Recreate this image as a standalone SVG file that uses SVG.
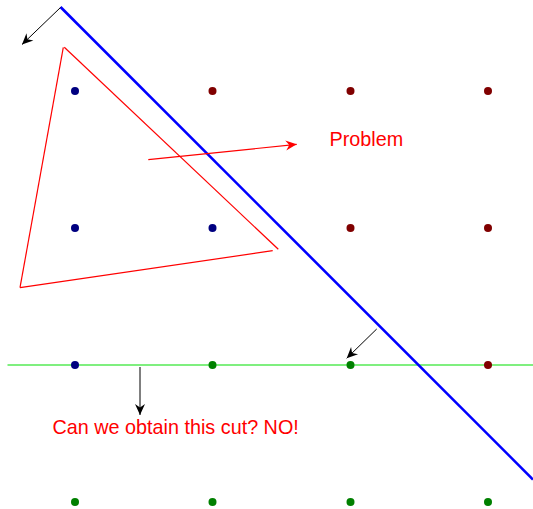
<svg xmlns="http://www.w3.org/2000/svg" width="533" height="509" viewBox="0 0 533 509">
<defs>
<style>
.blk{stroke:#000;stroke-width:1;fill:none}
.red{stroke:#ff0000;stroke-width:1.2;fill:none}
.dn{fill:#000080}.dr{fill:#800000}.dg{fill:#008000}
.lbl{font-family:"Liberation Sans",Arial,sans-serif;font-size:19.8px;fill:#ff0000}
</style>
<marker id="ah" viewBox="-12 -6 13 12" refX="0" refY="0" markerWidth="13" markerHeight="12" markerUnits="userSpaceOnUse" orient="auto">
<path d="M0,0 L-11,-5 L-7.5,0 L-11,5 z" fill="#000"/>
</marker>
<marker id="ahr" viewBox="-12 -6 13 12" refX="0" refY="0" markerWidth="13" markerHeight="12" markerUnits="userSpaceOnUse" orient="auto">
<path d="M0,0 L-11,-5 L-7.5,0 L-11,5 z" fill="#ff0000"/>
</marker>
</defs>
<rect width="533" height="509" fill="#fff"/>
<g id="cut-line">
<line x1="7.5" y1="365" x2="533" y2="365" stroke="#00e000" stroke-width="1.1"/>
</g>
<g id="blue-line">
<line x1="60.5" y1="7" x2="533" y2="479.5" stroke="#0000ff" stroke-width="2.6"/>
</g>
<g id="triangle">
<line class="red" x1="63.3" y1="47.3" x2="20" y2="287.7"/>
<line class="red" x1="20" y1="287.7" x2="272.7" y2="250.7"/>
<line class="red" x1="64.3" y1="47.3" x2="278.3" y2="249.3"/>
</g>
<g id="dots">
<circle class="dn" cx="75" cy="91" r="4"/>
<circle class="dr" cx="212.5" cy="91" r="4"/>
<circle class="dr" cx="350.5" cy="91" r="4"/>
<circle class="dr" cx="488" cy="91" r="4"/>
<circle class="dn" cx="75" cy="228" r="4"/>
<circle class="dn" cx="212.5" cy="228" r="4"/>
<circle class="dr" cx="350.5" cy="228" r="4"/>
<circle class="dr" cx="488" cy="228" r="4"/>
<circle class="dn" cx="75" cy="365" r="4"/>
<circle class="dg" cx="212.5" cy="365" r="4"/>
<circle class="dg" cx="350.5" cy="365" r="4"/>
<circle class="dr" cx="488" cy="365" r="4"/>
<circle class="dg" cx="75" cy="502" r="4"/>
<circle class="dg" cx="212.5" cy="502" r="4"/>
<circle class="dg" cx="350.5" cy="502" r="4"/>
<circle class="dg" cx="488" cy="502" r="4"/>
</g>
<g id="connectors">
<line class="blk" x1="60.5" y1="7.5" x2="22" y2="44.5" marker-end="url(#ah)"/>
<line class="blk" x1="376.7" y1="329" x2="346.7" y2="358.3" marker-end="url(#ah)"/>
<line class="blk" x1="140" y1="367" x2="140" y2="415" marker-end="url(#ah)"/>
<line class="red" x1="148.3" y1="159.7" x2="296.7" y2="144.3" marker-end="url(#ahr)"/>
</g>
<g id="labels">
<text class="lbl" x="329.5" y="146">Problem</text>
<text class="lbl" x="52.5" y="434.3">Can we obtain this cut? NO!</text>
</g>
</svg>
